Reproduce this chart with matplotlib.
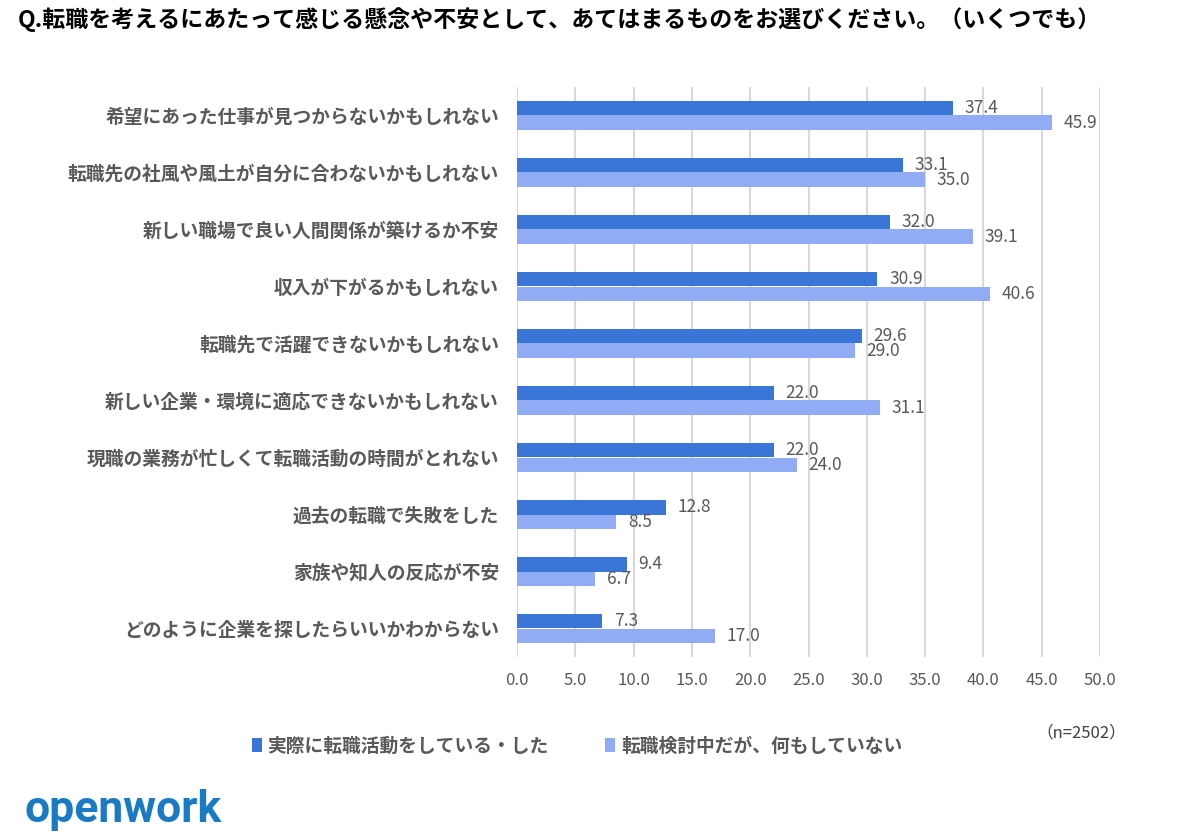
import matplotlib.pyplot as plt
import numpy as np

plt.rcParams['font.family'] = ['Noto Sans CJK JP', 'DejaVu Sans']

# データ
categories = [
    '希望にあった仕事が見つからないかもしれない',
    '転職先の社風や風土が自分に合わないかもしれない',
    '新しい職場で良い人間関係が築けるか不安',
    '収入が下がるかもしれない',
    '転職先で活躍できないかもしれない',
    '新しい企業・環境に適応できないかもしれない',
    '現職の業務が忙しくて転職活動の時間がとれない',
    '過去の転職で失敗をした',
    '家族や知人の反応が不安',
    'どのように企業を探したらいいかわからない',
]
active = [37.4, 33.1, 32.0, 30.9, 29.6, 22.0, 22.0, 12.8, 9.4, 7.3]
considering = [45.9, 35.0, 39.1, 40.6, 29.0, 31.1, 24.0, 8.5, 6.7, 17.0]
series_names = ['実際に転職活動をしている・した', '転職検討中だが、何もしていない']
xticks = np.arange(0, 50.1, 5)

dark = '#3A76D8'
light = '#8FACF5'
grey = '#595959'

fig = plt.figure(figsize=(11.92, 8.38), dpi=100)
ax = fig.add_axes([517 / 1192, 1 - 657 / 838, 583 / 1192, 570 / 838])

y = np.arange(len(categories))
h = 0.263
b1 = ax.barh(y - h / 2, active, height=h, color=dark, label=series_names[0], zorder=3)
b2 = ax.barh(y + h / 2, considering, height=h, color=light, label=series_names[1], zorder=3)

# 数値ラベル（29.6 / 29.0 は元図でも重なっている）
for yi, v in zip(y, active):
    ax.text(v + 1.0, yi - h / 2, f'{v:.1f}', color=grey, fontsize=12.5,
            va='center', ha='left', zorder=4)
for yi, v in zip(y, considering):
    ax.text(v + 1.0, yi + h / 2, f'{v:.1f}', color=grey, fontsize=12.5,
            va='center', ha='left', zorder=4)

ax.set_xlim(0, 50)
ax.set_ylim(len(categories) - 0.5, -0.5)
ax.set_xticks(xticks)
ax.set_xticklabels([f'{t:.1f}' for t in xticks], color=grey, fontsize=12)
ax.set_yticks(y)
ax.set_yticklabels(categories, color=grey, fontsize=13.5, fontweight='bold')
ax.tick_params(axis='both', length=0)
ax.tick_params(axis='x', pad=11)
ax.tick_params(axis='y', pad=13)
ax.grid(axis='x', color='#D9D9D9', linewidth=1.5, zorder=0)
for s in ax.spines.values():
    s.set_visible(False)

# タイトル
fig.text(18 / 1192, 1 - 20 / 838,
         'Q.転職を考えるにあたって感じる懸念や不安として、あてはまるものをお選びください。（いくつでも）',
         fontsize=16.55, fontweight='bold', color='black', va='center', ha='left')

# 凡例
fig.legend(handles=[b1, b2], labels=series_names, loc='center', ncol=2,
           bbox_to_anchor=(577 / 1192, 1 - 746 / 838), frameon=False,
           handlelength=0.55, handleheight=0.8, handletextpad=0.3,
           columnspacing=3.0, labelcolor=grey, prop={'weight': 'bold', 'size': 13.5})

fig.text(1081 / 1192, 1 - 733 / 838, '（n=2502）', fontsize=12, color='#404040',
         va='center', ha='center')

# ロゴ
fig.text(24 / 1192, 1 - 810 / 838, 'openwork', fontsize=32, fontweight='bold',
         color='#1A7AC4', va='center', ha='left', family=['Roboto', 'DejaVu Sans'])

fig.savefig('out.png', dpi=100)
